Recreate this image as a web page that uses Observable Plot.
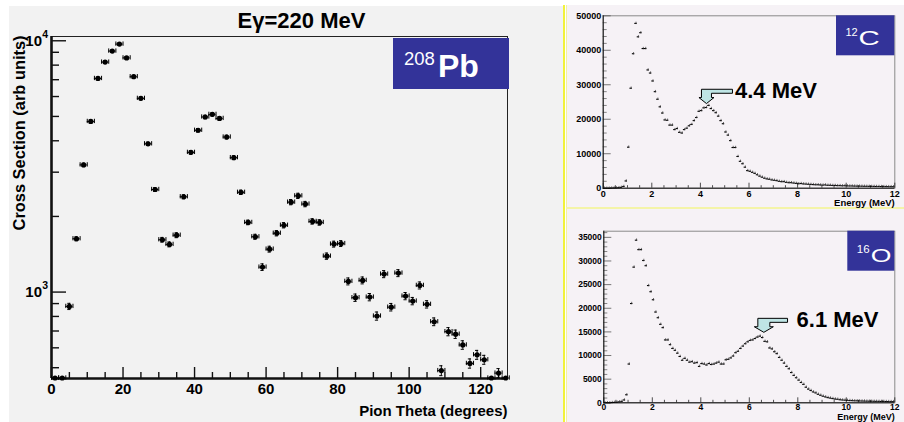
<!DOCTYPE html>
<html><head><meta charset="utf-8">
<script src="https://cdn.jsdelivr.net/npm/d3@7"></script>
<script src="https://cdn.jsdelivr.net/npm/@observablehq/plot@0.6"></script>
<style>
html,body{margin:0;padding:0;background:#fff;}
#root{position:relative;width:904px;height:422px;overflow:hidden;font-family:"Liberation Sans",Arial,sans-serif;}
#root > div, #root > svg{position:absolute;}
</style></head>
<body><div id="root"></div>
<script>
// ---------- data ----------
const titleText = "Eγ=220 MeV";
const thetaDeg = [1,3,5,7,9,11,13,15,17,19,21,23,25,27,29,31,33,35,37,39,41,43,45,47,49,51,53,55,57,59,61,63,65,67,69,71,73,75,77,79,81,83,85,87,89,91,93,95,97,99,101,103,105,107,109,111,113,115,117,119,121,123,125,127];
const pbCross = [455,455,877,1630,3207,4775,7080,8225,9100,9700,
  8550,7195,5900,3890,2560,1615,1548,1684,2395,3597,
  4405,4975,5095,4910,4140,3427,2495,1893,1660,1257,
  1482,1715,1845,2280,2415,2240,1911,1893,1390,1552,
  1560,1103,950,1113,955,803,1179,871,1190,964,
  921,1063,894,762,487,696,680,616,520,563,
  538,455,476,455];
const pbErr = [0,0,25,30,50,70,90,100,110,115,
  105,95,80,60,45,35,35,38,45,60,
  70,80,80,80,70,60,50,40,38,38,
  40,42,45,55,58,55,48,48,40,42,
  42,35,32,35,32,30,38,30,38,32,
  31,34,30,27,22,26,26,24,22,23,
  22,0,20,0];
const pbXTicks = [0,20,40,60,80,100,120];
const pbXMinor = [5,10,15,25,30,35,45,50,55,65,70,75,85,90,95,105,110,115,125];
const pbYTicks = [1000,10000];
const pbYMinor = [500,600,700,800,900,2000,3000,4000,5000,6000,7000,8000,9000];
const pbYDomain = [453,10400];
const pbXDomain = [0,127.5];

const energyMeV = [0.05,0.15,0.25,0.35,0.45,0.55,0.65,0.75,0.85,0.95,1.05,1.15,1.25,1.35,1.45,1.55,1.65,1.75,1.85,1.95,2.05,2.15,2.25,2.35,2.45,2.55,2.65,2.75,2.85,2.95,3.05,3.15,3.25,3.35,3.45,3.55,3.65,3.75,3.85,3.95,4.05,4.15,4.25,4.35,4.45,4.55,4.65,4.75,4.85,4.95,5.05,5.15,5.25,5.35,5.45,5.55,5.65,5.75,5.85,5.95,6.05,6.15,6.25,6.35,6.45,6.55,6.65,6.75,6.85,6.95,7.05,7.15,7.25,7.35,7.45,7.55,7.65,7.75,7.85,7.95,8.05,8.15,8.25,8.35,8.45,8.55,8.65,8.75,8.85,8.95,9.05,9.15,9.25,9.35,9.45,9.55,9.65,9.75,9.85,9.95,10.05,10.15,10.25,10.35,10.45,10.55,10.65,10.75,10.85,10.95,11.05,11.15,11.25,11.35,11.45,11.55,11.65,11.75,11.85,11.95];
const c12Counts = [0,0,0,50,80,100,150,250,500,2100,
  11900,29000,39000,47800,43900,45100,40500,40500,34300,33400,
  31100,28000,25800,23600,21800,19800,19700,18300,18300,17000,
  17300,16200,16000,17000,17400,18100,18500,19600,20500,22300,
  22500,23300,23400,24000,23100,22500,21900,20900,19600,18700,
  16300,15400,13800,11800,11800,9200,7800,7100,6100,5100,
  4900,4600,4300,3900,3500,3200,2900,2700,2600,2400,
  2300,2200,2000,1900,1900,1700,1600,1600,1500,1400,
  1300,1350,1250,1200,1150,1100,1050,1000,1000,950,
  900,950,850,850,800,800,750,750,700,720,
  680,650,650,620,600,600,580,560,550,540,
  520,520,500,500,480,470,460,450,440,430];
const o16Counts = [0,0,0,50,80,120,200,300,600,1700,
  8200,21000,28700,34400,32400,32400,30100,29000,24800,23500,
  21800,19200,18000,16600,15900,13300,13300,12300,11500,11100,
  10500,9800,9000,9400,9000,8600,8700,8400,8500,7700,
  8300,8200,8000,8300,8100,8200,8400,8600,8200,8200,
  9100,9200,9500,9900,10600,10900,11500,12000,12500,12900,
  13200,13300,13600,13900,14100,13800,13000,12900,11600,11400,
  10800,10400,9600,9000,8400,7700,7200,6400,5800,5300,
  4800,4300,3900,3300,2900,2600,2300,2100,1800,1600,
  1400,1250,1100,1000,900,800,750,650,600,560,
  520,480,460,430,420,400,380,370,350,340,
  330,320,310,300,290,280,270,260,250,240];
const specXTicks = [0,2,4,6,8,10,12];
const c12YTicks = [0,10000,20000,30000,40000,50000];
const o16YTicks = [0,5000,10000,15000,20000,25000,30000,35000];
const c12Peak = {label: "4.4 MeV", e: 4.27, v: 24400};
const o16Peak = {label: "6.1 MeV", e: 6.62, v: 14800};
const binHalf = 0.05;
const c12ErrBar = 350, o16ErrBar = 260;

// ---------- helpers ----------
const SANS = "'Liberation Sans', Arial, sans-serif";
const root = document.getElementById("root");
function div(x, y, w, h, bg) {
  const d = document.createElement("div");
  Object.assign(d.style, {left: x + "px", top: y + "px", width: w + "px", height: h + "px", background: bg});
  root.appendChild(d);
}
function place(svg, x, y) {
  svg.style.left = x + "px"; svg.style.top = y + "px";
  root.appendChild(svg);
}
function stretch(svg, k) {
  svg.querySelectorAll('g[aria-label="stretch"] text').forEach(t => {
    t.setAttribute("transform", t.getAttribute("transform") + ` scale(${k},1)`);
  });
}
function elementBox(opts) {
  return (index, scales, values, dims) => {
    const g = d3.create("svg:g").attr("text-anchor", "start");
    const xr = dims.width - dims.marginRight + opts.dxRight;
    const x0 = xr - opts.w, y0 = dims.marginTop + opts.dyTop;
    g.append("rect").attr("x", x0).attr("y", y0).attr("width", opts.w).attr("height", opts.h).attr("fill", "#333399");
    g.append("text").attr("fill", "#fff").attr("font-family", SANS).attr("font-size", opts.massSize)
      .attr("text-anchor", "start")
      .attr("transform", `translate(${x0 + opts.massX},${y0 + opts.massY}) scale(${opts.massK},1)`).text(opts.mass);
    g.append("text").attr("fill", "#fff").attr("font-family", SANS).attr("font-size", opts.symSize)
      .attr("font-weight", opts.symWeight).attr("text-anchor", "start")
      .attr("transform", `translate(${x0 + opts.symX},${y0 + opts.symY}) scale(${opts.symK},1)`).text(opts.sym);
    return g.node();
  };
}
function peakArrow(peak, a) {
  return (index, scales, values, dims) => {
    const g = d3.create("svg:g").attr("text-anchor", "start");
    const tx = scales.x(peak.e), ty = scales.y(peak.v);
    const pts = [[0,0],[-a.head,-a.headY],[-a.shaft,-a.headY],[-a.shaft,-a.top],[a.stem,-a.top],[a.stem,-a.stemB],[a.shaft,-a.stemB],[a.shaft,-a.headY],[a.head,-a.headY]];
    g.append("path").attr("d", "M" + pts.map(p => `${tx + p[0]},${ty + p[1]}`).join("L") + "Z")
      .attr("fill", "#bfe5e5").attr("stroke", "#000").attr("stroke-width", 1);
    g.append("text").attr("x", tx + a.textX).attr("y", ty - a.textY).attr("font-family", SANS)
      .attr("text-anchor", "start")
      .attr("font-size", 22).attr("font-weight", "bold").attr("fill", "#000").text(peak.label);
    return g.node();
  };
}

// ---------- backgrounds ----------
div(9, 6, 554, 416, "#f2f2f2");
div(566, 5, 338, 417, "#f6f2f6");
div(562.5, 5, 2, 417, "#f2f23a");
div(565.5, 5, 1.2, 417, "#f2f2a0");
div(566, 207, 338, 1.6, "#f4f4a8");

// ---------- left: 208Pb angular distribution ----------
{
  const W = 560, H = 422, mL = 51, mT = 36, mR = 53, mB = 44;
  const fW = W - mL - mR, fH = H - mT - mB;
  const pb = thetaDeg.map((t, i) => ({t, v: pbCross[i], err: pbErr[i]}));
  const pbE = pb.filter(d => d.err > 0);
  const svg = Plot.plot({
    width: W, height: H, marginLeft: mL, marginTop: mT, marginRight: mR, marginBottom: mB,
    style: {background: "transparent", fontFamily: SANS, overflow: "visible", color: "#000"},
    x: {domain: pbXDomain, axis: null},
    y: {type: "log", domain: pbYDomain, axis: null},
    marks: [
      Plot.frame({stroke: "#222", strokeWidth: 1}),
      Plot.ruleX(pbXMinor, {x: d => d, insetTop: fH - 6, stroke: "#111", strokeWidth: 1.4}),
      Plot.ruleX(pbXTicks, {x: d => d, insetTop: fH - 11, stroke: "#111", strokeWidth: 1.4}),
      Plot.ruleY(pbYMinor, {y: d => d, insetRight: fW - 8, stroke: "#111", strokeWidth: 1.4}),
      Plot.ruleY(pbYTicks, {y: d => d, insetRight: fW - 15, stroke: "#111", strokeWidth: 1.4}),
      Plot.ruleX([pbXDomain[0]], {stroke: "#111", strokeWidth: 2.6}),
      Plot.ruleY([pbYDomain[0]], {stroke: "#111", strokeWidth: 2.6}),
      Plot.ruleY(pb, {y: "v", x1: d => d.t - 1, x2: d => d.t + 1, stroke: "#000", strokeWidth: 1}),
      Plot.ruleX(pb, {x: d => d.t - 1, y1: d => d.v / 1.02, y2: d => d.v * 1.02, stroke: "#000", strokeWidth: 1}),
      Plot.ruleX(pb, {x: d => d.t + 1, y1: d => d.v / 1.02, y2: d => d.v * 1.02, stroke: "#000", strokeWidth: 1}),
      Plot.ruleX(pbE, {x: "t", y1: d => d.v - d.err, y2: d => d.v + d.err, stroke: "#000", strokeWidth: 1}),
      Plot.ruleY(pbE, {y: d => d.v + d.err, x1: d => d.t - 0.45, x2: d => d.t + 0.45, stroke: "#000", strokeWidth: 1}),
      Plot.ruleY(pbE, {y: d => d.v - d.err, x1: d => d.t - 0.45, x2: d => d.t + 0.45, stroke: "#000", strokeWidth: 1}),
      Plot.dot(pb, {x: "t", y: "v", r: 2.6, fill: "#000"}),
      Plot.text(pbXTicks, {x: d => d, frameAnchor: "bottom", lineAnchor: "top", dy: 5, text: d => String(d), fontSize: 15, fontWeight: "bold", fill: "#000"}),
      Plot.text(pbYTicks, {y: d => d, frameAnchor: "left", textAnchor: "end", lineAnchor: "middle", dx: -9.5, text: () => "10", fontSize: 15, fontWeight: "bold", fill: "#000"}),
      Plot.text(pbYTicks, {y: d => d, frameAnchor: "left", textAnchor: "start", lineAnchor: "middle", dx: -9.3, dy: -6, text: d => String(Math.round(Math.log10(d))), fontSize: 10.5, fontWeight: "bold", fill: "#000"}),
      Plot.text(["Pion Theta (degrees)"], {frameAnchor: "bottom-right", textAnchor: "end", lineAnchor: "bottom", dy: 37, fontSize: 15, fontWeight: "bold", fill: "#000"}),
      Plot.text(["Cross Section (arb units)"], {frameAnchor: "top-left", rotate: -90, textAnchor: "end", lineAnchor: "bottom", dx: -27, dy: -1, fontSize: 16.4, fontWeight: "bold", fill: "#000"}),
      Plot.text([titleText], {frameAnchor: "top", lineAnchor: "bottom", dx: 22, dy: -9, fontSize: 22, fontWeight: "bold", fill: "#000"}),
      elementBox({w: 116, h: 51, dxRight: 2, dyTop: 2, mass: "208", massSize: 18.5, massX: 11, massY: 27, massK: 1,
                  sym: "Pb", symSize: 32, symWeight: "bold", symX: 45, symY: 38.7, symK: 1})
    ]
  });
  place(svg, 0, 0);
}

// ---------- right: spectra ----------
function spectrum({counts, yDomain, yTicks, yMinor, errBar, peak, arrow, box, W, H, mL, mT, mR, mB, xLabDy, eLabDy, tickFont, eFont}) {
  const fW = W - mL - mR, fH = H - mT - mB;
  const data = energyMeV.map((e, i) => ({e, v: counts[i]}));
  const xMinor = d3.range(0.5, 12.01, 0.5).filter(d => d % 2 !== 0);
  const svg = Plot.plot({
    width: W, height: H, marginLeft: mL, marginTop: mT, marginRight: mR, marginBottom: mB,
    style: {background: "transparent", fontFamily: SANS, overflow: "visible", color: "#000"},
    x: {domain: [0, 12], axis: null},
    y: {domain: yDomain, axis: null},
    marks: [
      Plot.frame({stroke: "#8a8a8a", strokeWidth: 1}),
      Plot.ruleX(xMinor, {x: d => d, insetTop: fH - 2.5, stroke: "#222", strokeWidth: 0.8}),
      Plot.ruleX(specXTicks, {x: d => d, insetTop: fH - 5, stroke: "#222", strokeWidth: 0.8}),
      Plot.ruleY(yMinor, {y: d => d, insetRight: fW - 4, stroke: "#555", strokeWidth: 0.7}),
      Plot.ruleY(yTicks, {y: d => d, insetRight: fW - 8, stroke: "#555", strokeWidth: 0.8}),
      Plot.ruleX([0], {stroke: "#111", strokeWidth: 1}),
      Plot.ruleY([0], {stroke: "#111", strokeWidth: 1}),
      Plot.ruleY(data, {y: "v", x1: d => d.e - binHalf, x2: d => d.e + binHalf, stroke: "#000", strokeWidth: 1.1}),
      Plot.ruleX(data, {x: "e", y1: d => Math.max(0, d.v - errBar), y2: d => d.v + errBar, stroke: "#333", strokeWidth: 0.7}),
      Plot.text(yTicks, {y: d => d, frameAnchor: "left", textAnchor: "end", lineAnchor: "middle", dx: -2, text: d => String(d), fontSize: tickFont, fontWeight: "bold", fill: "#000", ariaLabel: "stretch"}),
      Plot.text(specXTicks, {x: d => d, frameAnchor: "bottom", lineAnchor: "top", dy: xLabDy, text: d => String(d), fontSize: tickFont, fontWeight: "bold", fill: "#000", ariaLabel: "stretch"}),
      Plot.text(["Energy (MeV)"], {frameAnchor: "bottom-right", textAnchor: "end", lineAnchor: "bottom", dy: eLabDy, fontSize: eFont, fontWeight: "bold", fill: "#000", ariaLabel: "stretch"}),
      elementBox(box),
      peakArrow(peak, arrow)
    ]
  });
  stretch(svg, 1.4);
  return svg;
}

place(spectrum({
  counts: c12Counts, yDomain: [0, 50000], yTicks: c12YTicks, yMinor: d3.range(2000, 50000, 2000).filter(d => d % 10000 !== 0),
  errBar: c12ErrBar, peak: c12Peak,
  arrow: {head: 7.5, headY: 6, shaft: 5, top: 14.3, stemB: 10.3, stem: 26, textX: 28.5, textY: 6},
  box: {w: 58.3, h: 40, dxRight: 0, dyTop: 0, mass: "12", massSize: 11, massX: 9.5, massY: 21, massK: 1,
        sym: "C", symSize: 21, symWeight: "normal", symX: 22.5, symY: 30, symK: 1.4},
  W: 338, H: 203, mL: 36.7, mT: 10.3, mR: 9.7, mB: 20.3, xLabDy: 2, eLabDy: 17.8, tickFont: 9, eFont: 9.5
}), 566, 5);

place(spectrum({
  counts: o16Counts, yDomain: [0, 36300], yTicks: o16YTicks, yMinor: d3.range(1000, 36300, 1000).filter(d => d % 5000 !== 0),
  errBar: o16ErrBar, peak: o16Peak,
  arrow: {head: 9.5, headY: 5.6, shaft: 6, top: 14, stemB: 10, stem: 23.7, textX: 32.7, textY: 5.5},
  box: {w: 47, h: 40, dxRight: 0, dyTop: 0, mass: "16", massSize: 11.5, massX: 9.5, massY: 22, massK: 1,
        sym: "O", symSize: 19, symWeight: "normal", symX: 23.5, symY: 31, symK: 1.4},
  W: 338, H: 213, mL: 37.3, mT: 21.7, mR: 9.7, mB: 19.7, xLabDy: 0.8, eLabDy: 17.4, tickFont: 8.5, eFont: 9
}), 566, 209);
</script>
</body></html>
